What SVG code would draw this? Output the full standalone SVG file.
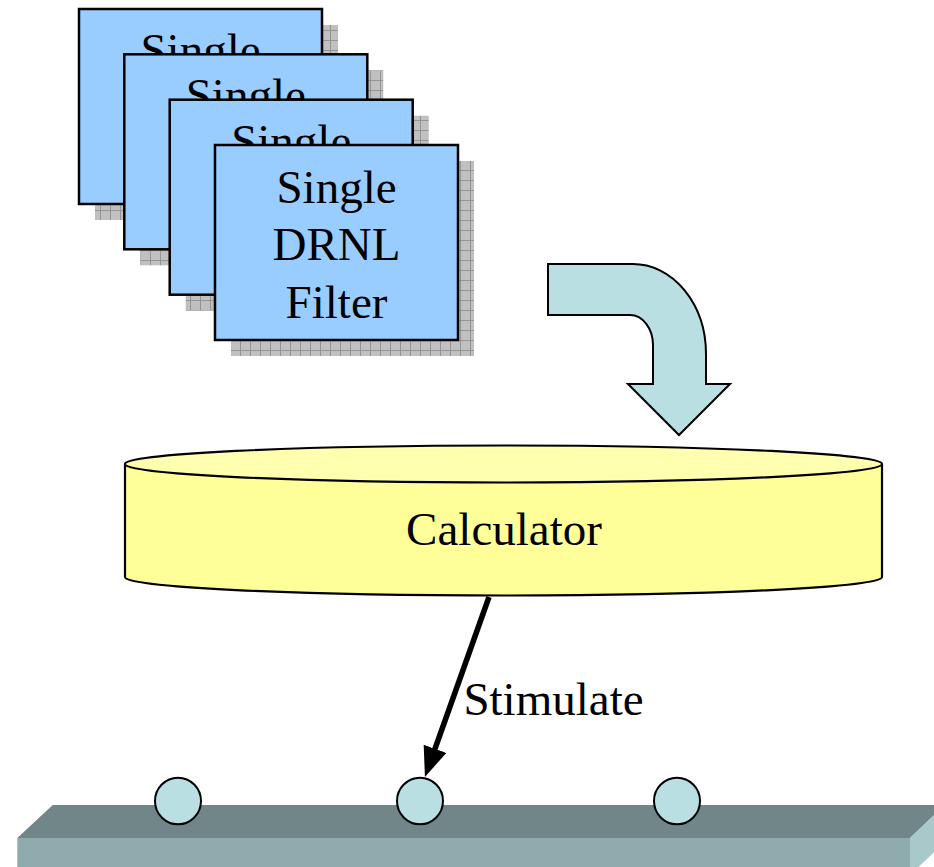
<svg xmlns="http://www.w3.org/2000/svg" width="934" height="867" viewBox="0 0 934 867">
  <style>
    .txt { font-family: "Liberation Serif", "Times New Roman", serif; font-size: 47px; fill: #000; text-anchor: middle; }
    .card { fill: #99ccff; stroke: #000; stroke-width: 2.5; }
    .shadow { fill: url(#grid); }
    .node { fill: #b9dfe2; stroke: #000; stroke-width: 2; }
    .cyl { fill: #ffff99; stroke: #000; stroke-width: 2.2; }
    .cyltop { fill: #ffffb0; stroke: #000; stroke-width: 2.2; }
  </style>
  <defs>
    <!-- grey textured drop shadow with a fine grid -->
    <pattern id="grid" width="10" height="10" patternUnits="userSpaceOnUse">
      <rect width="10" height="10" fill="#c0c0c0"/>
      <path d="M0,0.5 H10 M0.5,0 V10" stroke="#949494" stroke-width="1"/>
    </pattern>
    <marker id="head" markerUnits="userSpaceOnUse" markerWidth="34" markerHeight="26" refX="14" refY="12" orient="auto">
      <path d="M0,0 L30,12 L0,24 Z" fill="#000"/>
    </marker>
  </defs>

  <!-- stacked filter cards, back to front -->
  <g id="filter1">
    <rect class="shadow" x="95" y="25" width="243" height="195"/>
    <rect class="card" x="79" y="9" width="243" height="195"/>
    <text class="txt" x="200.5" y="66">Single</text>
  </g>
  <g id="filter2">
    <rect class="shadow" x="140.3" y="70.3" width="243" height="195"/>
    <rect class="card" x="124.3" y="54.3" width="243" height="195"/>
    <text class="txt" x="245.8" y="111.3">Single</text>
  </g>
  <g id="filter3">
    <rect class="shadow" x="185.7" y="115.7" width="243" height="195"/>
    <rect class="card" x="169.7" y="99.7" width="243" height="195"/>
    <text class="txt" x="291.2" y="156.7">Single</text>
  </g>
  <g id="filter4">
    <rect class="shadow" x="231" y="161" width="243" height="195"/>
    <rect class="card" x="215" y="145" width="243" height="195"/>
    <text class="txt" x="336.5" y="202.5">Single</text>
    <text class="txt" x="336.5" y="260">DRNL</text>
    <text class="txt" x="336.5" y="318">Filter</text>
  </g>

  <!-- bent block arrow from filters to calculator -->
  <g id="flow-arrow">
    <path d="M548,264 L633,264 A73,90 0 0 1 706,354 L706,384 L730,384 L679,435 L628,384 L653,384 L653,345 A23,30 0 0 0 630,315 L548,315 Z" fill="#b9dfe2" stroke="#000" stroke-width="2" stroke-linejoin="miter"/>
  </g>

  <!-- calculator drum -->
  <g id="calculator">
    <path class="cyl" d="M125,464 L125,577 A378.5,18.5 0 0 0 882,577 L882,464"/>
    <ellipse class="cyltop" cx="503.5" cy="464" rx="378.5" ry="18.5"/>
    <text class="txt" x="504" y="545">Calculator</text>
  </g>

  <!-- base bar -->
  <g id="bar">
    <polygon points="52.7,805 945,805 910,838 17.3,838" fill="#718689"/>
    <rect x="17.3" y="838" width="892.7" height="40" fill="#8fabad"/>
    <polygon points="910,838 945,805 945,842 910,875" fill="#a8c8ca"/>
  </g>

  <!-- nodes on the bar -->
  <g id="node1"><ellipse class="node" cx="178" cy="801" rx="23" ry="23.3"/></g>
  <g id="node2"><ellipse class="node" cx="420" cy="801" rx="23" ry="23.3"/></g>
  <g id="node3"><ellipse class="node" cx="677" cy="801" rx="23" ry="23.3"/></g>

  <!-- connectors -->
  <g id="connectors">
    <line x1="489" y1="597" x2="430.3" y2="762" stroke="#000" stroke-width="5.5" marker-end="url(#head)"/>
    <text class="txt" x="553.5" y="715">Stimulate</text>
  </g>
</svg>
